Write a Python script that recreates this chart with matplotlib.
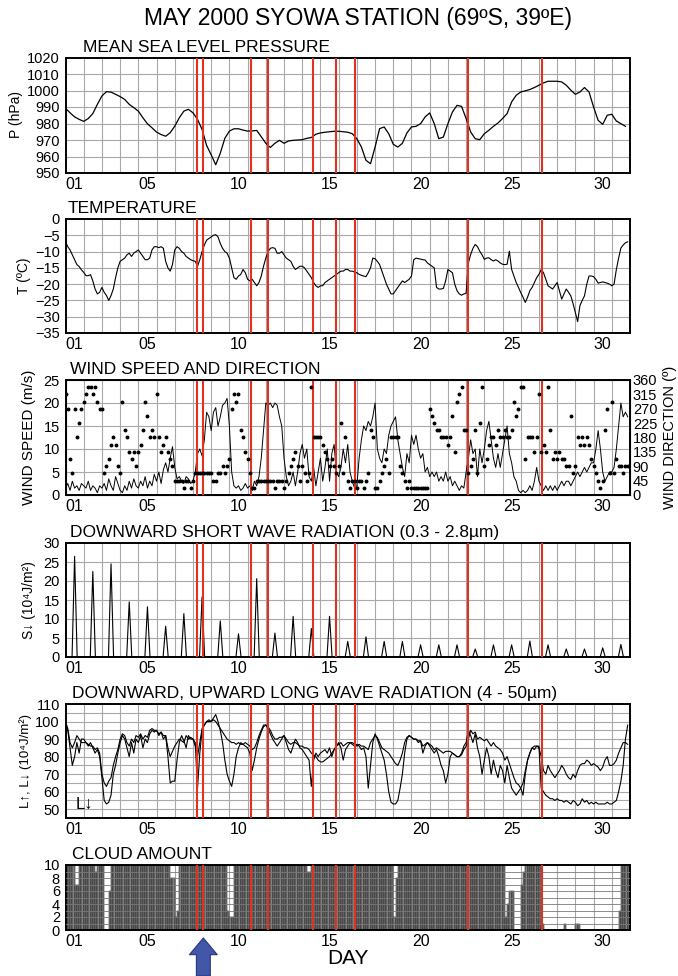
import numpy as np
import matplotlib
matplotlib.use("Agg")
import matplotlib.pyplot as plt

plt.rcParams['font.family'] = ['Liberation Sans', 'DejaVu Sans']

# days on which the red marker lines are drawn
red_days = [8.20, 8.57, 11.17, 12.14, 14.61, 15.85, 16.91, 23.09, 27.17]
label_days = [1, 5, 10, 15, 20, 25, 30]

# mean sea level pressure (hPa), every 6 hours from 1 May 00h
pressure = [
    989.2, 986.5, 984.0, 982.5, 981.3, 983.0, 986.0, 991.6,
    996.7, 999.3, 999.0, 997.7, 996.3, 994.6, 991.6, 989.6,
    987.5, 983.5, 979.8, 977.4, 974.8, 973.3, 972.3, 974.4,
    978.4, 983.5, 987.5, 988.6, 986.5, 982.5, 976.4, 966.7,
    961.0, 955.0, 962.0, 971.0, 975.4, 976.8, 976.8, 976.0,
    975.4, 975.5, 975.8, 972.0, 968.0, 965.5, 968.0, 969.8,
    968.0, 969.4, 969.8, 970.0, 970.2, 971.0, 971.5, 973.5,
    974.3, 974.7, 975.0, 975.3, 975.3, 975.0, 974.7, 973.8,
    970.8, 965.7, 957.7, 955.6, 965.7, 976.9, 977.9, 973.8,
    967.4, 965.7, 968.0, 974.3, 977.9, 978.3, 979.9, 984.0,
    986.4, 979.9, 970.8, 971.8, 979.9, 987.0, 991.0, 990.4,
    983.0, 974.9, 970.8, 970.2, 973.8, 975.9, 978.3, 980.3,
    983.0, 986.0, 993.1, 997.1, 999.1, 999.8, 1000.6, 1001.8,
    1003.2, 1004.6, 1005.6, 1005.6, 1005.6, 1005.2, 1003.2, 1000.2,
    997.7, 999.1, 1001.8, 999.1, 990.0, 981.9, 979.5, 985.0,
    985.6, 981.5, 979.9, 978.3,
]

# air temperature (degC), every 3 hours
temperature = [
    -6.9, -8.5, -9.5, -11, -12.5, -14, -14.6, -15.6,
    -16.4, -17.4, -17.4, -17.1, -19, -21.5, -23, -22.5,
    -21, -22.5, -23.5, -25, -23.5, -21.5, -18, -15,
    -13, -12.5, -12, -11, -10.5, -11.5, -10.5, -10,
    -9.5, -10.5, -11.5, -12.5, -12.5, -12, -9.5, -8.5,
    -8.5, -8.8, -8.5, -9, -13, -15, -16, -14,
    -9.5, -8.5, -9, -10, -10.5, -11.5, -12, -12.5,
    -12.8, -13, -14.5, -12.5, -10, -8, -6.5, -6,
    -5.5, -5, -4.8, -5.5, -7.5, -9, -10, -10.5,
    -12, -15, -18, -18.5, -17.5, -17, -15.5, -16.5,
    -18.5, -19, -18.5, -19.5, -20.5, -19.5, -17.5, -14.5,
    -12, -10, -9, -8.8, -9, -10.5, -10.5, -10,
    -11, -12, -12.5, -13, -14.5, -15.5, -15, -14.5,
    -14.5, -15, -16, -17, -18, -19.5, -20.5, -21,
    -20.5, -20.5, -19.5, -19, -18.5, -18, -17.5, -17,
    -16.5, -16, -16, -15.5, -15.5, -16, -16, -16.3,
    -16.5, -17, -17.3, -17.5, -17.7, -16.5, -15, -12,
    -12.2, -13, -14, -16, -18, -20, -21.5, -23,
    -23, -22, -21, -20, -19, -19.5, -19, -18.5,
    -17.5, -12.5, -12, -12.2, -12.3, -12.5, -12.6, -13.5,
    -14, -14.5, -15, -21, -21.5, -21.5, -21.3, -19,
    -15.5, -16, -16.5, -20, -22, -23, -23.4, -23,
    -22.8, -13.4, -10.9, -9, -7.8, -8.5, -9.9, -11,
    -12.4, -12, -11.9, -12.5, -12.9, -12.5, -12.9, -13.5,
    -13.9, -14, -13.9, -9.9, -15.5, -17.5, -19.5, -21,
    -22.6, -24, -25.6, -24, -22, -21, -19.5, -18,
    -17, -15.5, -16.5, -18.5, -20.5, -21, -21.5, -20.5,
    -19.5, -22, -24.6, -23, -21.5, -22.5, -23.6, -26,
    -28.7, -31.5, -26.6, -25, -23.6, -20, -17.5, -17.5,
    -17.7, -18.5, -19.7, -19.5, -19.3, -19.5, -19.7, -20,
    -20.5, -20, -15.5, -12, -8.9, -8, -7.3, -7,
]

# wind speed (m/s), every 3 hours
wind_speed = [
    1.5, 2.5, 1, 3, 1.5, 2, 1, 2.5,
    2, 1.5, 3, 1, 2, 1.5, 0.5, 2,
    1.5, 2.5, 1, 3.5, 2, 1, 4, 2.5,
    1, 0.5, 2, 1, 3, 1.5, 3.5, 2,
    1.5, 3, 2, 4, 1.5, 3, 2, 4.5,
    3, 5, 2.5, 5.5, 7, 5, 8, 10.5,
    6, 3.5, 4, 3, 2.5, 4, 3.5, 2.5,
    3, 5, 9, 10, 8.5, 12, 18, 17,
    14, 18, 19, 15, 17, 19.5, 20, 21,
    15, 5, 2, 1.5, 2, 1, 1.5, 2.5,
    1.5, 2, 1, 3, 2, 4, 8, 14,
    20, 19.5, 20, 19, 20, 19.5, 17, 15,
    8, 4, 2, 3, 5, 2, 5, 9,
    11, 8, 10, 4, 3, 6, 2, 5,
    8, 3, 6, 10, 3, 9, 11, 5,
    4, 6, 10, 7, 11, 5, 3, 1.5,
    2, 8, 12, 15, 14, 16, 15, 17,
    20, 10, 8, 7, 10, 9, 13, 15,
    16, 17, 12, 9, 6, 4, 9, 7,
    13, 11, 13, 10, 8, 9, 5, 6,
    4, 5, 4, 5, 3, 4, 3, 5,
    3, 4, 2, 3, 2, 1, 2, 1.5,
    5, 8, 12, 9, 10, 4, 10, 7,
    10, 14, 16, 12, 8, 6, 9, 6,
    9, 12, 15, 9, 7, 4, 3, 1,
    0.5, 1, 0.5, 1, 2, 1, 3, 6,
    3, 2, 1, 2, 1, 2, 1, 2,
    1, 2, 3, 2, 3, 3, 2, 3,
    4, 5, 4, 5, 6, 5, 6, 7,
    7, 10, 14, 10, 5, 3, 4, 5,
    5, 6, 10, 15, 20, 17, 18, 17,
]

# wind direction as 16-point compass index (x 22.5 deg), every 3 hours
wind_dir_idx = [
    14, 12, 5, 3, 12, 8, 10, 12,
    13, 14, 15, 15, 14, 15, 13, 12,
    12, 3, 4, 5, 7, 8, 7, 4,
    3, 13, 9, 8, 6, 5, 6, 4,
    6, 7, 9, 13, 11, 8, 9, 8,
    14, 8, 6, 7, 8, 6, 5, 4,
    2, 2, 2, 2, 1, 2, 2, 1,
    2, 3, 3, 3, 3, 3, 3, 3,
    3, 2, 2, 3, 3, 4, 3, 4,
    5, 12, 14, 13, 14, 9, 8, 6,
    5, 3, 1, 1, 2, 2, 2, 2,
    2, 2, 2, 2, 1, 2, 2, 2,
    1, 2, 3, 4, 5, 6, 4, 2,
    4, 3, 2, 3, 15, 8, 8, 8,
    8, 7, 6, 5, 4, 5, 4, 3,
    4, 10, 3, 8, 2, 1, 2, 2,
    1, 2, 2, 1, 2, 3, 9, 8,
    1, 1, 2, 3, 4, 5, 3, 8,
    8, 8, 8, 4, 3, 2, 1, 2,
    1, 1, 1, 1, 1, 1, 1, 1,
    12, 11, 10, 9, 9, 8, 8, 8,
    7, 8, 11, 6, 13, 14, 15, 9,
    9, 3, 4, 5, 9, 3, 10, 15,
    4, 5, 7, 8, 8, 7, 9, 8,
    8, 9, 8, 8, 9, 13, 11, 12,
    15, 15, 5, 8, 8, 8, 6, 8,
    14, 6, 7, 6, 15, 9, 5, 6,
    5, 6, 5, 5, 4, 4, 11, 3,
    4, 8, 7, 8, 7, 8, 7, 5,
    4, 3, 2, 1, 2, 9, 12, 3,
    13, 3, 5, 4, 4, 3, 4, 4,
]

# daily noon peak of downward short wave radiation (10^4 J/m2)
sw_peak = [26.5, 22.5, 24.5, 14.5, 13.2, 8.1, 11.4, 15.8, 9.5, 6.1,
           20.6, 6.3, 10.7, 7.5, 10.7, 4.1, 5.3, 4.1, 4.1, 3.2,
           3.2, 3.2, 2.1, 3.2, 3.2, 4.2, 3.2, 2.1, 2.1, 2.4, 3.3]

# downward long wave radiation (10^4 J/m2), every 3 hours
lw_down = [
    100, 95, 85, 75, 80, 88, 82, 90,
    90, 88, 86, 88, 85, 82, 84, 80,
    68, 55, 53, 54, 58, 70, 75, 82,
    88, 92, 90, 85, 80, 88, 82, 90,
    88, 92, 85, 90, 88, 93, 95, 94,
    95, 92, 94, 90, 92, 80, 65, 66,
    66, 78, 88, 92, 89, 85, 92, 90,
    90, 88, 62, 82, 95, 98, 100, 101,
    100, 102, 104, 100, 95, 88, 78, 70,
    66, 63, 70, 80, 85, 88, 87, 86,
    85, 82, 72, 78, 85, 90, 94, 97,
    98, 96, 93, 90, 88, 86, 88, 90,
    92, 88, 84, 82, 86, 90, 88, 85,
    84, 82, 80, 78, 63, 78, 82, 80,
    82, 83, 84, 82, 85, 80, 84, 86,
    88, 85, 78, 84, 86, 88, 87, 86,
    87, 86, 84, 85, 80, 62, 75, 88,
    93, 90, 86, 82, 78, 70, 60, 54,
    53, 53, 55, 62, 70, 82, 90, 92,
    91, 90, 90, 88, 89, 82, 86, 88,
    86, 84, 82, 84, 80, 75, 72, 65,
    70, 80, 82, 81, 80, 80, 82, 86,
    88, 95, 92, 88, 93, 85, 80, 70,
    78, 85, 80, 70, 78, 72, 68, 75,
    72, 65, 75, 68, 62, 60, 58, 60,
    62, 58, 70, 78, 82, 85, 84, 86,
    86, 62, 60, 58, 57, 56, 56, 55,
    56, 55, 55, 54, 55, 54, 53, 55,
    54, 52, 53, 56, 54, 55, 53, 54,
    53, 54, 53, 53, 53, 53, 54, 53,
    53, 54, 55, 60, 66, 75, 90, 98,
]

# upward long wave radiation (10^4 J/m2), every 3 hours
lw_up = [
    100, 96, 88, 85, 88, 92, 90, 88,
    88, 88, 87, 86, 86, 84, 85, 82,
    70, 65, 63, 66, 68, 75, 80, 84,
    90, 93, 92, 88, 86, 90, 88, 92,
    91, 93, 90, 92, 91, 95, 96, 95,
    95, 93, 94, 92, 92, 85, 80, 83,
    86, 88, 90, 89, 88, 92, 90, 91,
    90, 86, 80, 88, 96, 98, 100, 100,
    100, 101, 100, 98, 96, 94, 92, 90,
    89, 88, 88, 87, 88, 87, 87, 88,
    87, 86, 84, 85, 88, 92, 95, 98,
    98, 97, 95, 92, 90, 90, 91, 91,
    92, 90, 88, 87, 88, 88, 87, 86,
    86, 85, 85, 84, 82, 81, 80, 78,
    77, 77, 78, 79, 80, 82, 84, 86,
    87, 88, 86, 87, 88, 88, 88, 87,
    86, 87, 86, 86, 85, 84, 88, 90,
    92, 91, 88, 85, 84, 83, 82, 80,
    78, 76, 75, 78, 82, 88, 91, 92,
    91, 90, 90, 89, 89, 86, 87, 88,
    87, 86, 84, 85, 84, 83, 82, 83,
    83, 83, 82, 81, 80, 80, 81, 84,
    86, 90, 95, 93, 94, 90, 91, 90,
    89, 90, 88, 86, 88, 86, 85, 84,
    82, 78, 80, 76, 72, 68, 65, 64,
    62, 65, 72, 78, 82, 85, 86, 86,
    85, 80, 72, 70, 75, 72, 70, 68,
    70, 72, 75, 73, 70, 68, 67, 70,
    68, 72, 75, 76, 76, 78, 77, 75,
    76, 75, 74, 72, 74, 78, 80, 75,
    75, 76, 78, 82, 85, 88, 88, 87,
]

# cloud amount (tenths), every 3 hours
cloud = [
    10, 10, 10, 10, 7, 7, 10, 10,
    10, 10, 10, 10, 10, 9, 10, 10,
    10, 0, 0, 6, 10, 10, 10, 10,
    10, 10, 10, 10, 10, 10, 10, 10,
    10, 10, 10, 10, 10, 10, 10, 10,
    10, 10, 10, 10, 10, 10, 8, 8,
    2, 3, 10, 10, 10, 10, 10, 10,
    10, 10, 10, 10, 10, 10, 10, 10,
    10, 10, 10, 10, 10, 10, 10, 3,
    2, 2, 10, 10, 10, 10, 10, 10,
    10, 10, 10, 10, 10, 10, 10, 10,
    10, 10, 10, 10, 10, 10, 10, 10,
    10, 10, 10, 10, 10, 10, 10, 10,
    10, 10, 9, 9, 10, 10, 10, 10,
    10, 10, 10, 10, 10, 10, 10, 10,
    10, 10, 10, 10, 10, 10, 10, 10,
    10, 10, 10, 10, 10, 10, 10, 10,
    10, 10, 10, 10, 10, 10, 10, 10,
    2, 8, 10, 10, 10, 10, 10, 10,
    10, 10, 10, 10, 10, 10, 10, 10,
    10, 10, 10, 10, 10, 10, 10, 10,
    10, 10, 10, 10, 10, 10, 10, 10,
    10, 10, 10, 10, 10, 10, 10, 10,
    10, 10, 10, 10, 10, 10, 10, 10,
    10, 2, 4, 6, 6, 0, 0, 0,
    7, 9, 10, 10, 10, 10, 10, 10,
    10, 1, 0, 0, 0, 0, 0, 0,
    0, 0, 0, 1, 0, 0, 0, 0,
    1, 1, 0, 0, 0, 0, 0, 0,
    0, 0, 0, 0, 0, 0, 0, 0,
    0, 0, 0, 3, 10, 10, 10, 10,
]

t6 = 1 + np.arange(len(pressure)) / 4.0
t3 = 1 + np.arange(len(temperature)) / 8.0

W, H = 678.0, 976.0
RED = '#e2321f'
GRID = '#a8a8a8'


def fx(px):
    return px / W


def fy(py):
    return 1 - py / H


def make_axes(top, bottom):
    return fig.add_axes([fx(65.5), fy(bottom), fx(630) - fx(65.5), (bottom - top) / H])


def dress(ax, ylim, yticks, ygrid):
    ax.set_xlim(1, 32)
    ax.set_ylim(*ylim)
    ax.set_yticks(yticks)
    ax.set_xticks([d + 0.5 for d in label_days])
    ax.set_xticklabels(['%02d' % d for d in label_days])
    for d in range(2, 32):
        ax.axvline(d, color=GRID, lw=0.8, zorder=1)
    for y in ygrid:
        ax.axhline(y, color=GRID, lw=0.8, zorder=1)
    for d in red_days:
        ax.axvline(d, color=RED, lw=1.5, zorder=4)
    ax.tick_params(axis='y', length=0, labelsize=10.5, pad=4)
    ax.tick_params(axis='x', length=0, labelsize=11.5, pad=3)
    for s in ax.spines.values():
        s.set_linewidth(1.4)


fig = plt.figure(figsize=(W / 100, H / 100), dpi=100)

fig.text(fx(358), fy(25), 'MAY 2000 SYOWA STATION (69ºS, 39ºE)', ha='center',
         va='baseline', fontsize=16.5)

# pressure
ax1 = make_axes(57.5, 173)
ax1.plot(t6, pressure, color='black', lw=0.9, zorder=3)
dress(ax1, (950, 1020), range(950, 1021, 10), range(960, 1020, 10))
fig.text(fx(83), fy(51.5), 'MEAN SEA LEVEL PRESSURE', fontsize=12.5, va='baseline')
fig.text(fx(16), fy(115), 'P (hPa)', rotation=90, ha='center', va='center', fontsize=10)

# temperature
ax2 = make_axes(219, 333)
ax2.plot(t3, temperature, color='black', lw=0.8, zorder=3)
dress(ax2, (-35, 0), range(-35, 1, 5), range(-30, 0, 5))
fig.text(fx(68), fy(213), 'TEMPERATURE', fontsize=12.5, va='baseline')
fig.text(fx(24), fy(276), 'T (ºC)', rotation=90, ha='center', va='center', fontsize=10)

# wind
ax3 = make_axes(380, 495)
ax3.plot(t3, wind_speed, color='black', lw=0.7, zorder=3)
dress(ax3, (0, 25), range(0, 26, 5), range(5, 25, 5))
ax3b = ax3.twinx()
ax3b.set_ylim(0, 360)
ax3b.set_yticks(range(0, 361, 45))
ax3b.tick_params(axis='y', length=0, labelsize=10.5, pad=2)
ax3b.plot(t3, np.array(wind_dir_idx) * 22.5, ls='none', marker='o', ms=1.8,
          color='black', zorder=5)
fig.text(fx(70), fy(374), 'WIND SPEED AND DIRECTION', fontsize=12.5, va='baseline')
fig.text(fx(29), fy(437), 'WIND SPEED (m/s)', rotation=90, ha='center', va='center', fontsize=11)
fig.text(fx(670), fy(437), 'WIND DIRECTION (º)', rotation=90, ha='center', va='center',
         fontsize=10.5)

# short wave
ax4 = make_axes(543, 657)
sw_t, sw_v = [], []
for i, p in enumerate(sw_peak):
    d = i + 1
    sw_t += [d + 0.36, d + 0.5, d + 0.64]
    sw_v += [0, p, 0]
ax4.plot(sw_t, sw_v, color='black', lw=0.8, zorder=3)
dress(ax4, (0, 30), range(0, 31, 5), range(5, 30, 5))
fig.text(fx(70), fy(537), 'DOWNWARD SHORT WAVE RADIATION (0.3 - 2.8µm)', fontsize=12.5,
         va='baseline')
fig.text(fx(29), fy(600), 'S↓ (10⁴J/m²)', rotation=90, ha='center', va='center', fontsize=10)

# long wave
ax5 = make_axes(704, 818)
ax5.plot(t3, lw_up, color='black', lw=0.8, zorder=3)
ax5.plot(t3, lw_down, color='black', lw=0.8, zorder=3)
dress(ax5, (45, 110), range(50, 111, 10), range(50, 110, 5))
ax5.text(2.05, 53, 'L↓', fontsize=12, ha='center', va='center', zorder=5)
fig.text(fx(72), fy(698), 'DOWNWARD, UPWARD LONG WAVE RADIATION (4 - 50µm)', fontsize=12.5,
         va='baseline')
fig.text(fx(26), fy(761), 'L↑, L↓ (10⁴J/m²)', rotation=90, ha='center', va='center',
         fontsize=9.5)

# cloud amount
ax6 = make_axes(865, 930)
ax6.bar(t3, cloud, width=0.125, align='edge', color='#808080', edgecolor='black',
        linewidth=0.35, zorder=2)
dress(ax6, (0, 10), range(0, 11, 2), [])
for y in range(1, 10):
    ax6.axhline(y, color='#7a7a7a', lw=0.6, zorder=3)
fig.text(fx(72), fy(859), 'CLOUD AMOUNT', fontsize=12.5, va='baseline')
fig.text(fx(348), fy(958), 'DAY', ha='center', va='center', fontsize=15)

ax6.annotate('', xy=(red_days[1], 38), xycoords=('data', 'figure pixels'),
             xytext=(red_days[1], 0), textcoords=('data', 'figure pixels'),
             arrowprops=dict(arrowstyle='simple,head_length=0.6,head_width=1.0,tail_width=0.5',
                             mutation_scale=20, fc='#4357a8', ec='#27357a', lw=0.8,
                             shrinkA=0, shrinkB=0),
             annotation_clip=False)

fig.savefig('out.png', dpi=100)
